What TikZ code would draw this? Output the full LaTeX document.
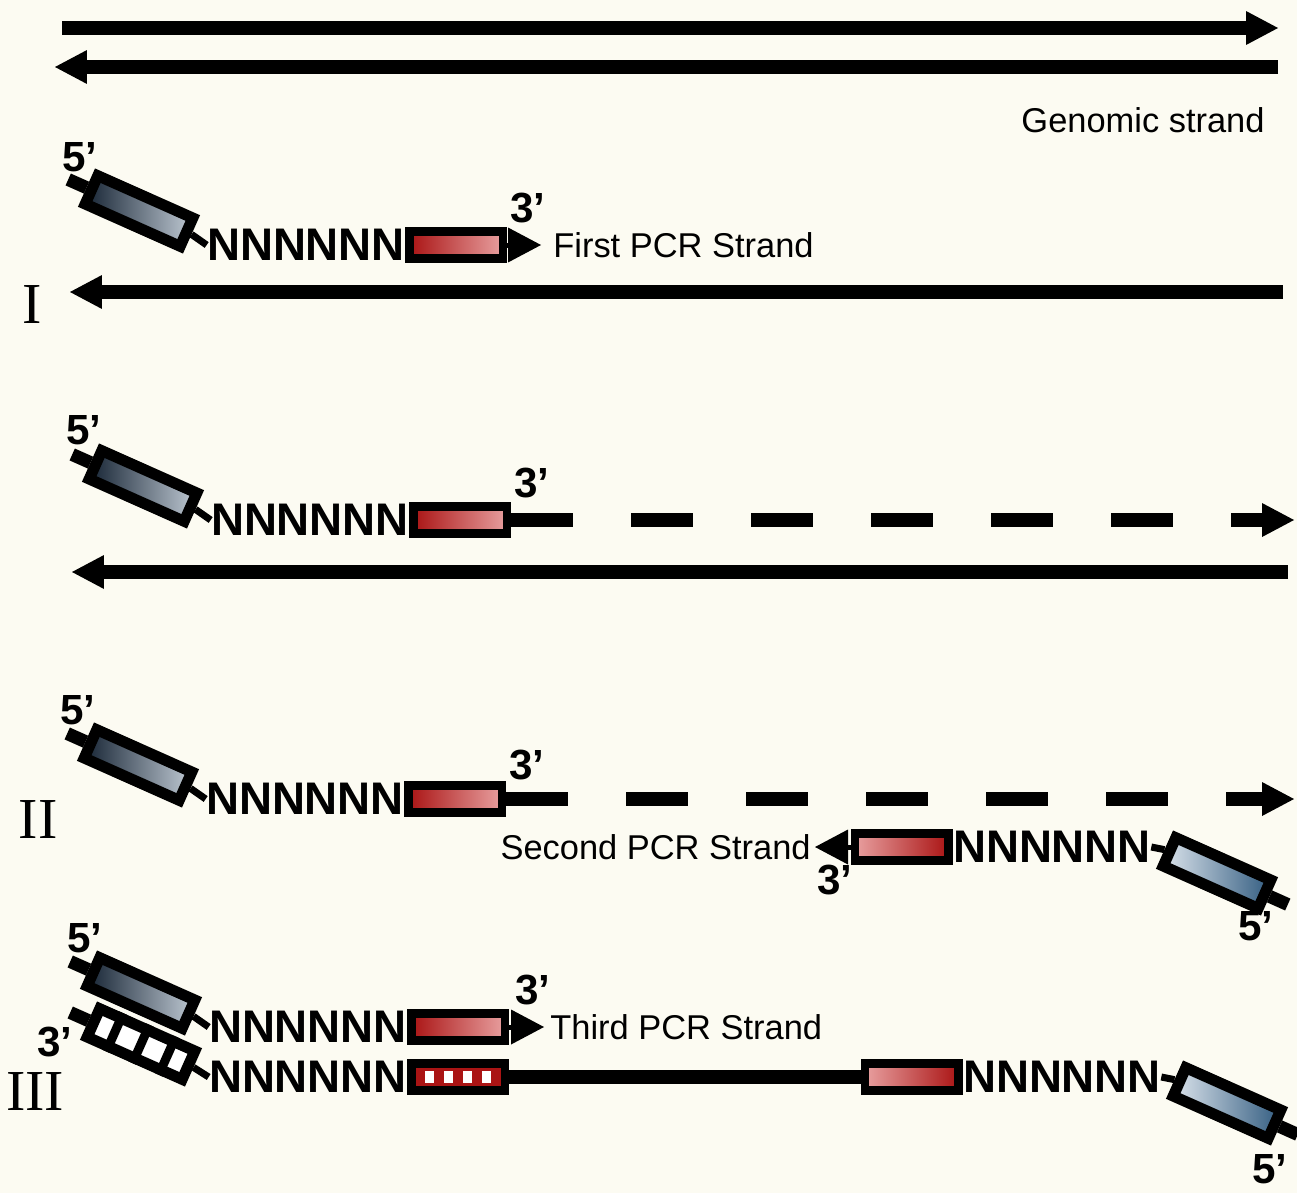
\documentclass[tikz,border=0pt]{standalone}
\usepackage{fontspec}
\setmainfont{Liberation Sans}
\newfontfamily\romanfont{Liberation Serif}
\usetikzlibrary{arrows.meta,positioning,calc}

\definecolor{bgcream}{RGB}{252,251,242}
\definecolor{navydark}{RGB}{22,36,52}
\definecolor{navylight}{RGB}{192,202,212}
\definecolor{steellight}{RGB}{220,228,236}
\definecolor{steeldark}{RGB}{50,92,128}
\definecolor{pcrred}{RGB}{170,20,20}
\definecolor{pcrpink}{RGB}{232,160,160}

\begin{document}
\begin{tikzpicture}[
    x=0.02cm, y=-0.02cm,
    % estilos de las hebras
    strand/.style={line width=0.28cm},
    stub/.style={line width=0.26cm},
    link/.style={line width=0.14cm},
    big tip/.style={-{Triangle[length=0.64cm,width=0.68cm,line width=0pt]}},
    small tip/.style={line width=0.1cm, -{Triangle[length=0.66cm,width=0.7cm,line width=0pt]}},
    dashed strand/.style={strand, dash pattern=on 1.24cm off 1.16cm, big tip},
    % estilos de los bloques
    primer box/.style={draw=black, line width=0.22cm, minimum width=2.08cm,
        minimum height=0.62cm, inner sep=0pt, rotate=-24},
    left primer/.style={primer box, left color=navydark, right color=navylight},
    right primer/.style={primer box, left color=steellight, right color=steeldark},
    red box/.style={draw=black, line width=0.17cm, minimum width=1.87cm,
        minimum height=0.54cm, inner sep=0pt},
    % estilos de texto
    nseq/.style={font=\fontsize{26}{28}\selectfont\bfseries, inner sep=0pt},
    prime/.style={font=\fontsize{24}{26}\selectfont\bfseries, inner sep=0pt},
    strand label/.style={font=\fontsize{19.6}{22}\selectfont, inner sep=0pt},
    round label/.style={font=\fontsize{33}{36}\selectfont\romanfont, inner sep=0pt}
]
\useasboundingbox (0,0) rectangle (1297,1193);
\fill[bgcream] (0,0) rectangle (1297,1193);

% --- HEBRA GENOMICA ---
\coordinate (gA1) at (62,28);   \coordinate (gA2) at (1278,28);
\coordinate (gB1) at (1278,67); \coordinate (gB2) at (55,67);
\draw[strand, big tip] (gA1) -- (gA2);
\draw[strand, big tip] (gB1) -- (gB2);
\node[strand label] (genomic) at (1143,120) {Genomic strand};

% --- I: PRIMERA HEBRA ---
\def\yA{245}
\node[nseq] (nA) at (306,\yA) {NNNNNN};
\node[left primer] (pA) at (139,211) {};
\node[red box, right=0pt of nA, left color=pcrred, right color=pcrpink] (rA) {};
\coordinate (tA) at (541,\yA);
\draw[stub] (pA.west) -- ($(pA.west)!-0.4cm!(pA.east)$);
\draw[link] (pA.east) -- (nA.west);
\draw[small tip] (rA.east) -- (tA);
\node[prime] (fiveA) at (80,157) {5’};
\node[prime] (threeA) at (528,208) {3’};
\node[strand label, anchor=west] (firstpcr) at (553,\yA) {First PCR Strand};
\coordinate (gC1) at (1283,292); \coordinate (gC2) at (70,292);
\draw[strand, big tip] (gC1) -- (gC2);
\node[round label] (romanI) at (32,305) {I};

% --- EXTENSION DE LA PRIMERA HEBRA ---
\def\yB{520}
\node[nseq] (nB) at (310,\yB) {NNNNNN};
\node[left primer] (pB) at (143,486) {};
\node[red box, right=0pt of nB, left color=pcrred, right color=pcrpink] (rB) {};
\coordinate (tB) at (1294,\yB);
\draw[stub] (pB.west) -- ($(pB.west)!-0.4cm!(pB.east)$);
\draw[link] (pB.east) -- (nB.west);
\draw[dashed strand] (rB.east) -- (tB);
\node[prime] (fiveB) at (84,430) {5’};
\node[prime] (threeB) at (532,483) {3’};
\coordinate (gD1) at (1288,572); \coordinate (gD2) at (72,572);
\draw[strand, big tip] (gD1) -- (gD2);

% --- II: SEGUNDA HEBRA ---
\def\yC{799}
\node[nseq] (nC) at (305,\yC) {NNNNNN};
\node[left primer] (pC) at (138,765) {};
\node[red box, right=0pt of nC, left color=pcrred, right color=pcrpink] (rC) {};
\coordinate (tC) at (1294,\yC);
\draw[stub] (pC.west) -- ($(pC.west)!-0.4cm!(pC.east)$);
\draw[link] (pC.east) -- (nC.west);
\draw[dashed strand] (rC.east) -- (tC);
\node[prime] (fiveC) at (78,710) {5’};
\node[prime] (threeC) at (527,765) {3’};
\node[round label] (romanII) at (38,820) {II};

\def\yS{847}
\node[nseq] (nS) at (1052,\yS) {NNNNNN};
\node[red box, left=0pt of nS, left color=pcrpink, right color=pcrred] (rS) {};
\node[right primer] (pS) at (1217,873) {};
\coordinate (tS) at (815,\yS);
\draw[link] (nS.east) -- (pS.west);
\draw[stub] (pS.east) -- ($(pS.east)!-0.4cm!(pS.west)$);
\draw[small tip] (rS.west) -- (tS);
\node[strand label, anchor=east] (secondpcr) at (811,\yS) {Second PCR Strand};
\node[prime] (threeS) at (835,880) {3’};
\node[prime] (fiveS) at (1256,926) {5’};

% --- III: TERCERA HEBRA ---
\def\yD{1027}
\node[nseq] (nD) at (308,\yD) {NNNNNN};
\node[left primer] (pD) at (141,993) {};
\node[red box, right=0pt of nD, left color=pcrred, right color=pcrpink] (rD) {};
\coordinate (tD) at (544,\yD);
\draw[stub] (pD.west) -- ($(pD.west)!-0.4cm!(pD.east)$);
\draw[link] (pD.east) -- (nD.west);
\draw[small tip] (rD.east) -- (tD);
\node[prime] (fiveD) at (85,938) {5’};
\node[prime] (threeD) at (533,990) {3’};
\node[strand label, anchor=west] (thirdpcr) at (550,\yD) {Third PCR Strand};

% hebra complementaria (rayada)
\def\yE{1077}
\node[nseq] (nE) at (308,\yE) {NNNNNN};
\node[primer box, fill=white] (pE) at (141,1044) {};
\foreach \f in {0.25,0.5,0.75}
    \draw[line width=0.18cm] ($(pE.north west)!\f!(pE.north east)$) -- ($(pE.south west)!\f!(pE.south east)$);
\node[red box, right=0pt of nE, fill=pcrred] (rE) {};
\foreach \dx in {-29,-10,9,28}
    \fill[white] ($(rE.center)+(\dx-4.5,-6)$) rectangle ++(9,12);
\draw[stub] (pE.west) -- ($(pE.west)!-0.4cm!(pE.east)$);
\draw[link] (pE.east) -- (nE.west);
\node[nseq] (nF) at (1062,\yE) {NNNNNN};
\node[red box, left=0pt of nF, left color=pcrpink, right color=pcrred] (rF) {};
\node[right primer] (pF) at (1227,1103) {};
\draw[strand] (rE.east) -- (rF.west);
\draw[link] (nF.east) -- (pF.west);
\draw[stub] (pF.east) -- ($(pF.east)!-0.4cm!(pF.west)$);
\node[prime] (threeE) at (55,1042) {3’};
\node[prime] (fiveF) at (1270,1169) {5’};
\node[round label] (romanIII) at (35,1092) {III};

\end{tikzpicture}
\end{document}
